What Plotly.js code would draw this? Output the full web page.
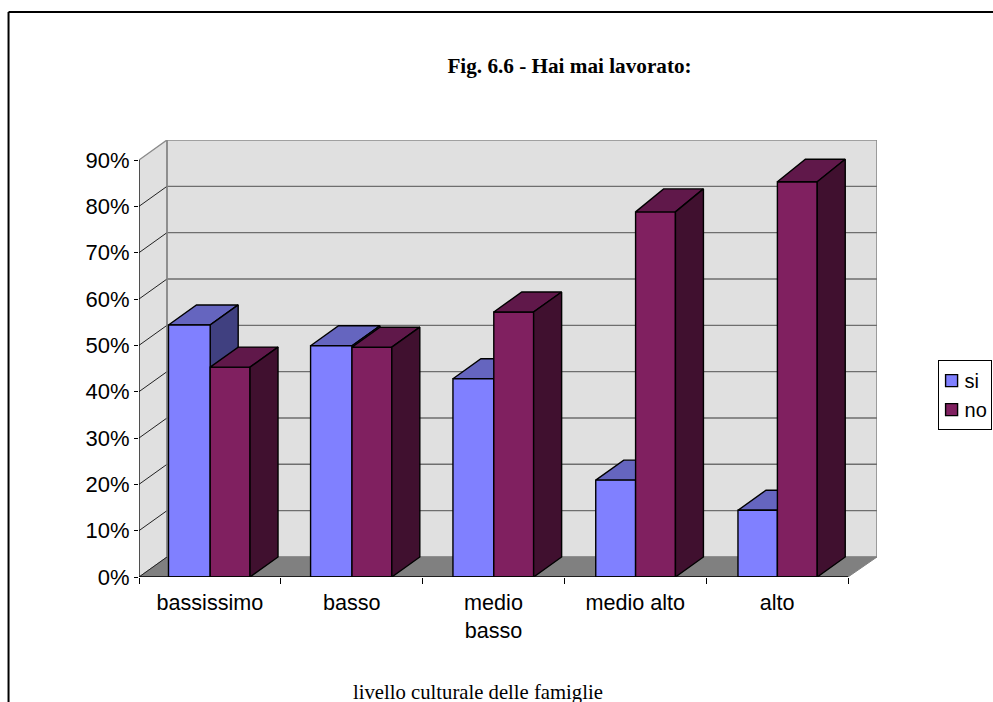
<!DOCTYPE html>
<html>
<head>
<meta charset="utf-8">
<script src="https://cdn.plot.ly/plotly-3.0.1.min.js"></script>
<style>html,body{margin:0;padding:0;background:#fff;overflow:hidden}</style>
</head>
<body>
<div id="chart" style="width:993px;height:702px"></div>
<script>
const categories = ['bassissimo', 'basso', 'medio<br>basso', 'medio alto', 'alto'];
const si = [54.4, 49.9, 42.8, 20.9, 14.4];
const no = [45.3, 49.6, 57.2, 78.8, 85.3];
const yTicks = [0, 10, 20, 30, 40, 50, 60, 70, 80, 90];
const noTopDepth = [20, 20, 20, 23, 22.5];
const siLeft = [0.208, 0.21, 0.214, 0.221, 0.224];

// geometry of the oblique projection, in axis units
const L = 138.5, R = 876.7, T = 140, B = 576.7, W = 993, H = 702;
const catPx = (847.7 - L) / 5, pctPx = (B - 160) / 90;
const xMax = (R - L) / catPx, yMax = (B - T) / pctPx;
const dx = 28 / catPx, dy = 20 / pctPx;
const siR = 0.502, noR = 0.783;
const n = categories.length;
const cols = {si: ['#8080FF', '#6565BF', '#404080'], no: ['#802060', '#60184A', '#40102F']};

const poly = (xs, ys, fill, line, lw, axes) => ({
  type: 'scatter', mode: 'lines', x: xs, y: ys, fill: 'toself', fillcolor: fill,
  line: {color: line, width: lw}, showlegend: false, hoverinfo: 'skip', cliponaxis: false,
  xaxis: axes ? 'x2' : 'x', yaxis: axes ? 'y2' : 'y'
});
const lineTr = (xs, ys, color, lw, axes) => ({
  type: 'scatter', mode: 'lines', x: xs, y: ys, line: {color: color, width: lw},
  showlegend: false, hoverinfo: 'skip', cliponaxis: false, connectgaps: false,
  xaxis: axes ? 'x2' : 'x', yaxis: axes ? 'y2' : 'y'
});
const faces = (i, x0, x1, v, c, over, d) => [
  poly([x0 + i, x1 + i, x1 + i + dx, x0 + i + dx, x0 + i], [v, v, v + d, v + d, v], c[1], '#000', 1.4, over),
  poly([x1 + i, x1 + i + dx, x1 + i + dx, x1 + i, x1 + i], [0, dy, v + d, v, 0], c[2], '#000', 1.4, over)
];

const gridX = [], gridY = [], diagX = [], diagY = [];
yTicks.slice(0, -1).forEach(t => {
  if (t > 0) { gridX.push(dx, xMax, null); gridY.push(t + dy, t + dy, null); }
  diagX.push(0, dx, null); diagY.push(t, t + dy, null);
});

const traces = [
  poly([0, dx, dx, 0, 0], [0, dy, 90 + dy, 90, 0], '#E0E0E0', '#E0E0E0', 0),
  poly([dx, xMax, xMax, dx, dx], [dy, dy, 90 + dy, 90 + dy, dy], '#E0E0E0', '#8A8A8A', 1.6),
  poly([0, 5, xMax, dx, 0], [0, 0, dy, dy, 0], '#808080', '#808080', 1),
  lineTr(gridX, gridY, '#6E6E6E', 1.4),
  lineTr(diagX, diagY, '#222', 1),
  lineTr([0, dx, dx], [90, 90 + dy, dy], '#8A8A8A', 1.4)
];
// the rear "si" faces lie under every front face
for (let i = 0; i < n; i++) traces.push(...faces(i, siLeft[i], siR, si[i], cols.si, false, dy));
// front faces, on the overlaying axes
const idx = categories.map((_, i) => i);
traces.push({
  type: 'bar', name: 'si', x: idx.map(i => i + (siLeft[i] + siR) / 2), y: si, width: idx.map(i => siR - siLeft[i]),
  marker: {color: cols.si[0], line: {color: '#000', width: 1.4}}, xaxis: 'x2', yaxis: 'y2', hoverinfo: 'y'
});
traces.push({
  type: 'bar', name: 'no', x: idx.map(i => i + (siR + noR) / 2), y: no, width: noR - siR,
  marker: {color: cols.no[0], line: {color: '#000', width: 1.4}}, xaxis: 'x2', yaxis: 'y2', hoverinfo: 'y'
});
for (let i = 0; i < n; i++) traces.push(...faces(i, siR, noR, no[i], cols.no, true, noTopDepth[i] / pctPx));
traces.push(lineTr([0, 0], [0, 90], '#000', 1.3, true));
traces.push(lineTr([0, 5], [0, 0], '#000', 1.3, true));

const px = v => (v - L) / (R - L);
const py = v => (B - v) / (B - T);
const frame = (x0, y0, x1, y1) => ({type: 'line', xref: 'paper', yref: 'paper',
  x0: px(x0), y0: py(y0), x1: px(x1), y1: py(y1), line: {color: '#000', width: 2}});

const layout = {
  width: W, height: H, autosize: false, paper_bgcolor: '#fff', plot_bgcolor: 'rgba(0,0,0,0)',
  margin: {l: L, r: W - R, t: T, b: H - B, pad: 0, autoexpand: false},
  barmode: 'overlay', showlegend: true,
  font: {family: 'Liberation Sans, Arial, sans-serif', color: '#000', size: 18},
  title: {text: '<b>Fig. 6.6 - Hai mai lavorato:</b>', x: 569.5 / W, xanchor: 'center', xref: 'container',
    y: 1 - 66 / H, yanchor: 'middle', yref: 'container',
    font: {family: 'Liberation Serif, Times New Roman, serif', size: 21.2, color: '#000'}},
  xaxis: {range: [0, xMax], fixedrange: true, showgrid: false, zeroline: false, showline: false,
    tickmode: 'array', tickvals: idx.map(i => i + 0.5), ticktext: categories, ticks: '', ticklabelstandoff: 10,
    minor: {tickmode: 'array', tickvals: [0, 1, 2, 3, 4, 5], ticks: 'outside', ticklen: 6, tickcolor: '#000', tickwidth: 1.3, showgrid: false},
    tickfont: {size: 21.6}},
  yaxis: {range: [0, yMax], fixedrange: true, showgrid: false, zeroline: false, showline: false,
    tickmode: 'array', tickvals: yTicks, ticktext: yTicks.map(t => t + '%'), ticks: 'outside', ticklen: 4,
    tickcolor: '#000', tickwidth: 1.3, tickfont: {size: 22}},
  xaxis2: {range: [0, xMax], overlaying: 'x', visible: false, fixedrange: true},
  yaxis2: {range: [0, yMax], overlaying: 'y', visible: false, fixedrange: true},
  legend: {x: px(937.3), xanchor: 'left', y: py(360), yanchor: 'top', bgcolor: '#fff',
    bordercolor: '#000', borderwidth: 1, font: {size: 20, color: '#000'}, indentation: -14,
    traceorder: 'normal', itemclick: false, itemdoubleclick: false},
  shapes: [frame(8, 12, 993, 12), frame(8, 12, 8, 702)],
  annotations: [{text: 'livello culturale delle famiglie', xref: 'paper', yref: 'paper',
    x: px(478), y: py(692), xanchor: 'center', yanchor: 'middle', showarrow: false,
    font: {family: 'Liberation Serif, Times New Roman, serif', size: 20.7, color: '#000'}}]
};
Plotly.newPlot('chart', traces, layout, {displayModeBar: false}).then(() => {
  // tighten the legend to the original's compact box: swatches beside their labels
  document.querySelectorAll('.legend .traces .legendsymbols').forEach(g => g.setAttribute('transform', 'translate(7,0)'));
  const bg = document.querySelector('.legend .bg');
  if (bg) bg.setAttribute('width', 53.5);
});
</script>
</body>
</html>
